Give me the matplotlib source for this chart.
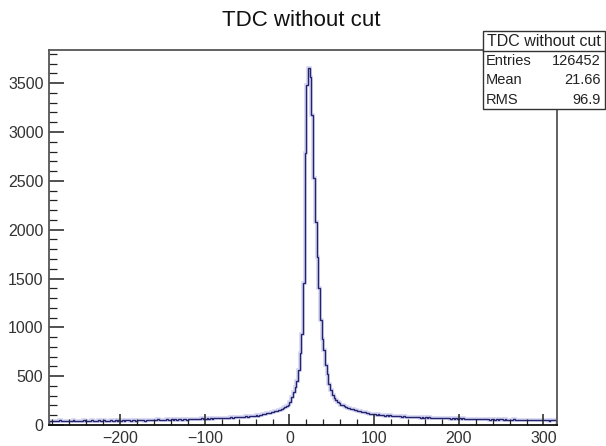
import numpy as np
import matplotlib
matplotlib.use('Agg')
import matplotlib.pyplot as plt
from matplotlib.ticker import MultipleLocator
from matplotlib.patches import Rectangle
from matplotlib.lines import Line2D

plt.rcParams['font.family'] = ['Liberation Sans', 'DejaVu Sans']

# histogram binning (TDC channels)
bin_lo = -284
bin_hi = 316
bin_width = 2

# counts per bin, left tail (-284 .. 0)
counts_left = [
    41, 38, 45, 40, 36, 43, 47, 39, 42, 44, 37, 46, 40, 43, 48, 39, 41, 45, 42, 38, 47,
    44, 40, 46, 43, 49, 41, 45, 38, 47, 44, 42, 48, 40, 46, 43, 50, 44, 41, 47, 45, 49,
    46, 51, 44, 48, 52, 47, 43, 50, 53, 46, 49, 55, 48, 51, 45, 54, 50, 47, 56, 52, 49, 53, 57, 50, 54,
    55, 51, 58, 53, 56, 60, 54, 57, 52, 61, 58, 55, 62, 59, 56, 63, 60, 57, 64, 61, 66, 59, 63, 67, 62,
    65, 68, 63, 70, 66, 69, 72, 67, 71, 74, 69, 73, 76, 71, 75, 78, 74, 77, 80, 79,
    82, 80, 85, 84, 88, 86, 91, 93, 90, 96, 99, 97, 103, 106, 110,
    114, 118, 121, 126, 130, 134, 140, 145, 152, 158, 165, 174, 182, 193, 208,
]
# peak region (0 .. 100)
counts_peak = [
    240, 290, 340, 390, 450, 560, 740, 930, 1450, 2790, 3480, 3660, 3560,
    3170, 2530, 2080, 1720, 1400, 1080, 880, 770, 610, 520, 420, 360,
    310, 275, 255, 240, 222, 208, 200, 192, 185, 178, 176, 168, 160,
    157, 150, 146, 141, 138, 133, 128, 124, 119, 116, 113, 110,
]
# right tail (100 .. 316)
counts_right = [
    108, 105, 110, 102, 99, 104, 97, 100, 94, 98, 91, 95, 89, 93, 87, 90, 85, 88, 84, 82, 86, 80, 83, 78, 81,
    78, 81, 76, 80, 74, 77, 73, 79, 71, 75, 72, 70, 74, 70, 73, 68, 71, 69, 67, 70, 66, 69, 65, 68, 66,
    68, 64, 67, 63, 66, 61, 65, 62, 64, 60, 63, 59, 62, 58, 61, 60, 57, 61, 56, 59, 58, 55, 60, 54, 57,
    57, 54, 58, 53, 56, 55, 52, 57, 51, 54, 56, 50, 53, 55, 49, 52, 54, 51, 48, 53, 50, 52, 47, 51, 49,
    53, 48, 50, 46, 52, 49, 47, 51,
]

title = 'TDC without cut'
stats_names = ['Entries', 'Mean', 'RMS']
stats_vals = ['126452', '21.66', '96.9']

counts = np.array(counts_left + counts_peak + counts_right)
edges = np.arange(bin_lo, bin_hi + bin_width, bin_width)

fig = plt.figure(figsize=(6.06, 4.46), dpi=100)
ax = fig.add_axes([0.0809, 0.0471, 0.8383, 0.8408])

# blurry halo + line, like the scanned ROOT plot
ax.stairs(counts, edges, color='#d4d4f3', lw=2.6)
ax.stairs(counts, edges, color='#23236e', lw=1.0)

ax.set_xlim(bin_lo, bin_hi)
ax.set_ylim(0, 3840)

ax.xaxis.set_major_locator(MultipleLocator(100))
ax.xaxis.set_minor_locator(MultipleLocator(20))
ax.yaxis.set_major_locator(MultipleLocator(500))
ax.yaxis.set_minor_locator(MultipleLocator(100))

ax.tick_params(axis='both', which='both', direction='in', top=False, right=False,
               labelsize=11.5, labelcolor='#333333', color='#222222')
ax.tick_params(axis='x', which='major', length=8, width=1.1, pad=4)
ax.tick_params(axis='x', which='minor', length=4, width=0.9)
ax.tick_params(axis='y', which='major', length=10.5, width=1.1, pad=4)
ax.tick_params(axis='y', which='minor', length=5.5, width=0.9)

for sp in ax.spines.values():
    sp.set_color('#555555')
    sp.set_linewidth(1.3)
ax.spines['bottom'].set_color('#111111')

fig.text(0.497, 0.955, title, ha='center', va='center', fontsize=16, color='#111111')

# stats box
bx0, bx1 = 483 / 606, 605 / 606
by_top, by_bot, by_sep = 1 - 31 / 446, 1 - 109 / 446, 1 - 51 / 446
fig.patches.append(Rectangle((bx0, by_bot), bx1 - bx0, by_top - by_bot, transform=fig.transFigure,
                             facecolor='white', edgecolor='#333333', lw=1.0, zorder=5))
fig.lines.append(Line2D([bx0, bx1], [by_sep, by_sep], transform=fig.transFigure,
                        color='#333333', lw=1.0, zorder=6))
fig.text((bx0 + bx1) / 2, 1 - 41.5 / 446, title, ha='center', va='center', fontsize=11.5,
         color='#222222', zorder=7)
for k, (nm, vl) in enumerate(zip(stats_names, stats_vals)):
    yy = 1 - (61 + 19.5 * k) / 446
    fig.text(486 / 606, yy, nm, ha='left', va='center', fontsize=10.5, color='#222222', zorder=7)
    fig.text(601 / 606, yy, vl, ha='right', va='center', fontsize=10.5, color='#222222', zorder=7)

fig.savefig('out.png', dpi=100)
